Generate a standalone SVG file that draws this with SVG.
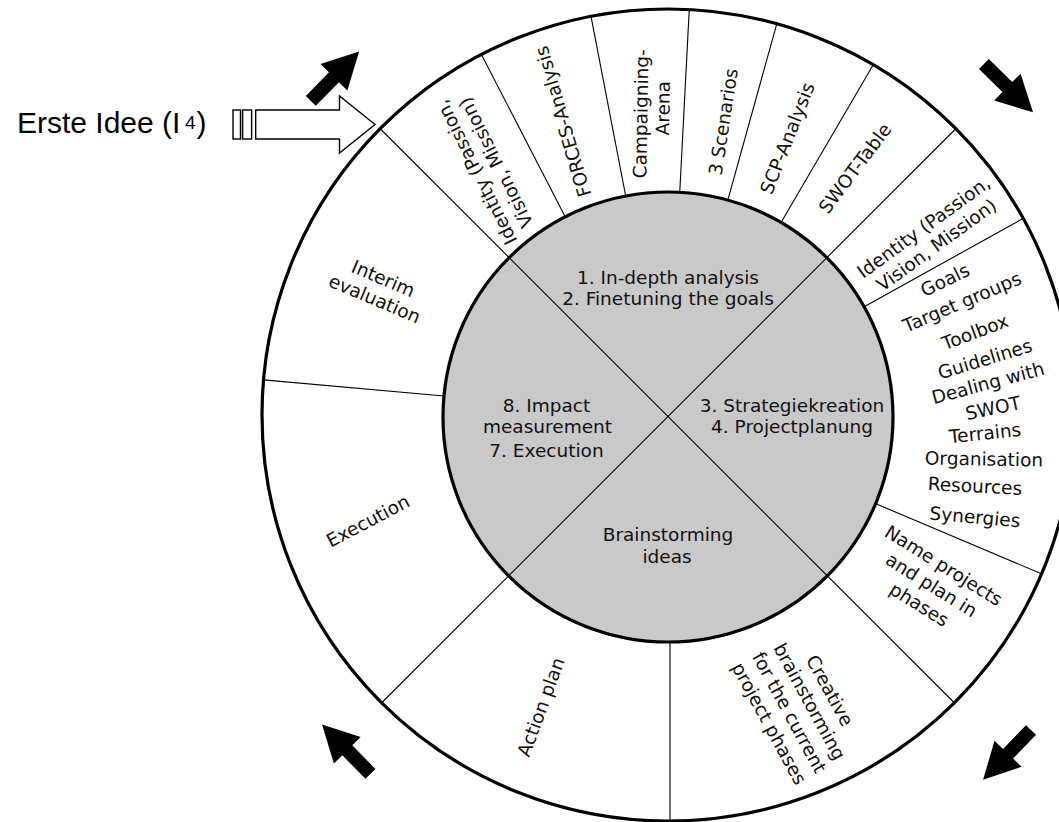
<svg xmlns="http://www.w3.org/2000/svg" width="1059" height="822" viewBox="0 0 1059 822">
  <style>
    .lbl { font-family: "DejaVu Sans", Verdana, sans-serif; font-size: 18.5px; fill: #111; text-anchor: middle; }
    .div { stroke: #000; stroke-width: 1.1; fill: none; }
    .rim { stroke: #000; stroke-width: 3.2; }
    .head { font-family: "Liberation Sans", Arial, sans-serif; fill: #000; }
  </style>
  <defs>
    <!-- solid direction arrow, tail at origin, pointing along +x -->
    <path id="turnArrow" d="M0,-7 H33 V-18.8 L69,0 L33,18.8 V7 H0 Z" fill="#000"/>
  </defs>

  <rect width="1059" height="822" fill="#fff"/>

  <!-- outer ring -->
  <g id="ring">
    <circle class="rim" cx="668" cy="415" r="406" fill="#fff"/>
  </g>

  <!-- connectors: ring dividers -->
  <g id="connectors">
    <line class="div" x1="564.8" y1="216.1" x2="481.8" y2="55.2"/>
    <line class="div" x1="625.5" y1="195.0" x2="591.2" y2="17.3"/>
    <line class="div" x1="679.8" y1="191.3" x2="689.2" y2="10.6"/>
    <line class="div" x1="728.1" y1="199.2" x2="776.5" y2="24.8"/>
    <line class="div" x1="781.5" y1="221.7" x2="872.8" y2="65.5"/>
    <line class="div" x1="864.6" y1="306.6" x2="1022.8" y2="218.6"/>
    <line class="div" x1="875.3" y1="503.5" x2="1042" y2="574"/>
    <line class="div" x1="670" y1="641" x2="670" y2="822"/>
    <line class="div" x1="443.9" y1="396" x2="263.6" y2="379.9"/>
  </g>

  <!-- hub -->
  <g id="hub">
    <circle class="rim" cx="668" cy="417" r="225" fill="#c9c9c9"/>
  </g>

  <!-- diagonals crossing the whole wheel -->
  <g id="diagonals">
    <line class="div" x1="381" y1="129.5" x2="955" y2="703.5"/>
    <line class="div" x1="955" y1="129.5" x2="381" y2="703.5"/>
  </g>

  <!-- hub quadrants -->
  <g id="phase-analysis">
    <text class="lbl" x="668" y="284">1. In-depth analysis</text>
    <text class="lbl" x="668" y="304.5">2. Finetuning the goals</text>
  </g>
  <g id="phase-strategy">
    <text class="lbl" x="792" y="412.3">3. Strategiekreation</text>
    <text class="lbl" x="792" y="433.3">4. Projectplanung</text>
  </g>
  <g id="phase-ideas">
    <text class="lbl" x="668" y="540.7">Brainstorming</text>
    <text class="lbl" x="667" y="563.3">ideas</text>
  </g>
  <g id="phase-execution">
    <text class="lbl" x="546.5" y="412.3">8. Impact</text>
    <text class="lbl" x="547.5" y="433.3">measurement</text>
    <text class="lbl" x="546.5" y="456.5">7. Execution</text>
  </g>

  <!-- ring segments, top -->
  <g id="seg-identity-a">
    <text class="lbl" transform="translate(486,167.5) rotate(-116.7)"><tspan x="0" y="-4.5">Identity (Passion,</tspan><tspan x="0" y="17.5">Vision, Mission)</tspan></text>
  </g>
  <g id="seg-forces">
    <text class="lbl" transform="translate(563,121.5) rotate(-106.5)" y="6.5">FORCES-Analysis</text>
  </g>
  <g id="seg-arena">
    <text class="lbl" transform="translate(652,111) rotate(-89)"><tspan x="-3" y="-4.5">Campaigning-</tspan><tspan x="3" y="17.5">Arena</tspan></text>
  </g>
  <g id="seg-scenarios">
    <text class="lbl" transform="translate(723.3,121.7) rotate(-81.3)" y="6.5">3 Scenarios</text>
  </g>
  <g id="seg-scp">
    <text class="lbl" transform="translate(787.3,138.3) rotate(-68.5)" y="6.5">SCP-Analysis</text>
  </g>
  <g id="seg-swot">
    <text class="lbl" transform="translate(855,168.3) rotate(-53)" y="6.5">SWOT-Table</text>
  </g>

  <!-- ring segments, right -->
  <g id="seg-identity-b">
    <text class="lbl" transform="translate(930,236) rotate(-36)"><tspan x="0" y="-4.5">Identity (Passion,</tspan><tspan x="0" y="17.5">Vision, Mission)</tspan></text>
  </g>
  <g id="seg-strategy-list">
    <text class="lbl" transform="translate(945,280) rotate(-26)" y="6.5">Goals</text>
    <text class="lbl" transform="translate(962,302) rotate(-23)" y="6.5">Target groups</text>
    <text class="lbl" transform="translate(975,332) rotate(-20.5)" y="6.5">Toolbox</text>
    <text class="lbl" transform="translate(985,359) rotate(-17)" y="6.5">Guidelines</text>
    <text class="lbl" transform="translate(988,383) rotate(-15)" y="6.5">Dealing with</text>
    <text class="lbl" transform="translate(993,408) rotate(-12)" y="6.5">SWOT</text>
    <text class="lbl" transform="translate(985,433) rotate(-6)" y="6.5">Terrains</text>
    <text class="lbl" transform="translate(984,459) rotate(1)" y="6.5">Organisation</text>
    <text class="lbl" transform="translate(975,486) rotate(3)" y="6.5">Resources</text>
    <text class="lbl" transform="translate(975,517) rotate(5)" y="6.5">Synergies</text>
  </g>
  <g id="seg-name-projects">
    <text class="lbl" transform="translate(931.5,585) rotate(32)"><tspan x="0" y="-16.5">Name projects</tspan><tspan x="0" y="6.5">and plan in</tspan><tspan x="0" y="29.5">phases</tspan></text>
  </g>

  <!-- ring segments, bottom -->
  <g id="seg-creative">
    <text class="lbl" transform="translate(799.5,707) rotate(61.5)"><tspan x="0" y="-28">Creative</tspan><tspan x="0" y="-5">brainstorming</tspan><tspan x="0" y="18">for the current</tspan><tspan x="0" y="41">project phases</tspan></text>
  </g>
  <g id="seg-action-plan">
    <text class="lbl" transform="translate(541,707) rotate(-69.7)" y="6.5">Action plan</text>
  </g>

  <!-- ring segments, left -->
  <g id="seg-execution">
    <text class="lbl" transform="translate(368,521) rotate(-27.7)" y="6.5">Execution</text>
  </g>
  <g id="seg-interim">
    <text class="lbl" transform="translate(379,288.6) rotate(23)"><tspan x="0" y="-4.5">Interim</tspan><tspan x="0" y="17.5">evaluation</tspan></text>
  </g>

  <!-- rotation arrows around the wheel -->
  <g id="turn-arrows">
    <use href="#turnArrow" transform="translate(310.8,100.8) rotate(-45.5)"/>
    <use href="#turnArrow" transform="translate(983.9,63.9) rotate(44.6)"/>
    <use href="#turnArrow" transform="translate(1031,730) rotate(134)"/>
    <use href="#turnArrow" transform="translate(370.4,773.8) rotate(-134.5)"/>
  </g>

  <!-- entry point -->
  <g id="entry">
    <text class="head" x="17" y="133.3" font-size="30">Erste Idee (I<tspan x="185" y="128.5" font-size="19">4</tspan><tspan x="196.5" y="133.3">)</tspan></text>
    <rect x="233" y="110" width="7.5" height="29" fill="#fff" stroke="#000" stroke-width="1.4"/>
    <rect x="242.6" y="110" width="9" height="29" fill="#fff" stroke="#000" stroke-width="1.4"/>
    <path d="M255.7,110 H339.5 V96 L375,124.5 L339.5,153 V139 H255.7 Z" fill="#fff" stroke="#000" stroke-width="1.4"/>
  </g>
</svg>
